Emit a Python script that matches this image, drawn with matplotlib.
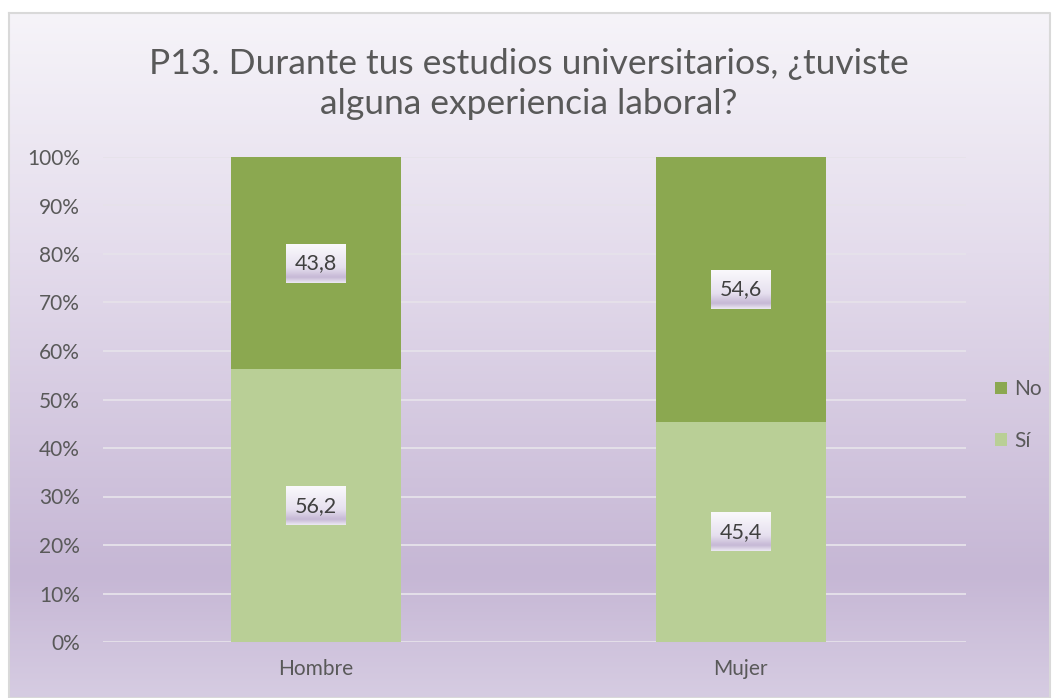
import numpy as np
import matplotlib.pyplot as plt
from matplotlib.colors import LinearSegmentedColormap

plt.rcParams['font.family'] = ['Lato', 'DejaVu Sans']

categories = ['Hombre', 'Mujer']
si = np.array([56.2, 45.4])
no = np.array([43.8, 54.6])
yticks = np.arange(0, 101, 10)

text_color = '#595959'
color_si = '#b9cf96'
color_no = '#8ba850'

W, H = 1057, 698
fig = plt.figure(figsize=(W / 100, H / 100), dpi=100)
fig.patch.set_facecolor('white')

# chart area background: pale at the top, deeper lilac near the bottom
bg = fig.add_axes([0, 0, 1, 1], zorder=-10)
bg.set_xlim(0, W)
bg.set_ylim(H, 0)
bg.axis('off')
stops = [(0.0, (246/255, 244/255, 249/255)),
         (0.35, (228/255, 220/255, 236/255)),
         (0.82, (198/255, 183/255, 213/255)),
         (1.0, (214/255, 204/255, 226/255))]
grad = LinearSegmentedColormap.from_list('bg', stops)
bg.imshow(np.linspace(0, 1, 256).reshape(-1, 1), cmap=grad, aspect='auto',
          extent=(9, 1050, 698, 13), interpolation='bicubic')
bg.plot([9, 1050, 1050, 9, 9], [13, 13, 698, 698, 13], color='#d9d9d9', lw=1.5)

ax = fig.add_axes([103 / W, 1 - 642 / H, (966 - 103) / W, (642 - 157) / H])
ax.patch.set_alpha(0)

x = np.arange(len(categories))
width = 0.4
bars_si = ax.bar(x, si, width, color=color_si, label='Sí', zorder=3)
bars_no = ax.bar(x, no, width, bottom=si, color=color_no, label='No', zorder=3)

ax.set_yticks(yticks)
ax.set_yticklabels([f'{t}%' for t in yticks])
ax.set_xticks(x)
ax.set_xticklabels(categories)
ax.tick_params(length=0, colors=text_color, labelsize=15)
ax.tick_params(axis='y', pad=16.5)
ax.tick_params(axis='x', pad=12)
ax.yaxis.grid(True, color='#e6e2ea', lw=1.3, zorder=0)
for s in ax.spines.values():
    s.set_visible(False)

# value labels on light gradient boxes
box_cmap = LinearSegmentedColormap.from_list(
    'box', [(0.0, (250/255, 249/255, 252/255)), (0.6, (230/255, 224/255, 239/255)),
            (0.86, (198/255, 184/255, 213/255)), (1.0, (236/255, 232/255, 243/255))])
box_w, box_h = 0.141, 8.0
for xi, s_val, n_val in zip(x, si, no):
    for yc, v in ((s_val / 2, s_val), (s_val + n_val / 2, n_val)):
        ax.imshow(np.linspace(0, 1, 64).reshape(-1, 1), cmap=box_cmap, aspect='auto',
                  extent=(xi - box_w / 2, xi + box_w / 2, yc - box_h / 2, yc + box_h / 2),
                  origin='upper', interpolation='bicubic', zorder=5)
        ax.text(xi, yc, f'{v:.1f}'.replace('.', ','), ha='center', va='center',
                fontsize=15.5, color='#404040', zorder=6)
ax.set_xlim(-0.5, 1.53)
ax.set_ylim(0, 100)

handles = [bars_no, bars_si]
ax.legend(handles, ['No', 'Sí'], loc='center left', bbox_to_anchor=(1.012, 0.468),
          frameon=False, fontsize=15, labelcolor=text_color,
          handlelength=0.55, handleheight=0.55, handletextpad=0.35, labelspacing=1.5)

fig.text(0.5, 1 - 84 / H, 'P13. Durante tus estudios universitarios, ¿tuviste\nalguna experiencia laboral?',
         ha='center', va='center', fontsize=25.5, color=text_color, linespacing=1.3)

fig.savefig('out.png', dpi=100)
